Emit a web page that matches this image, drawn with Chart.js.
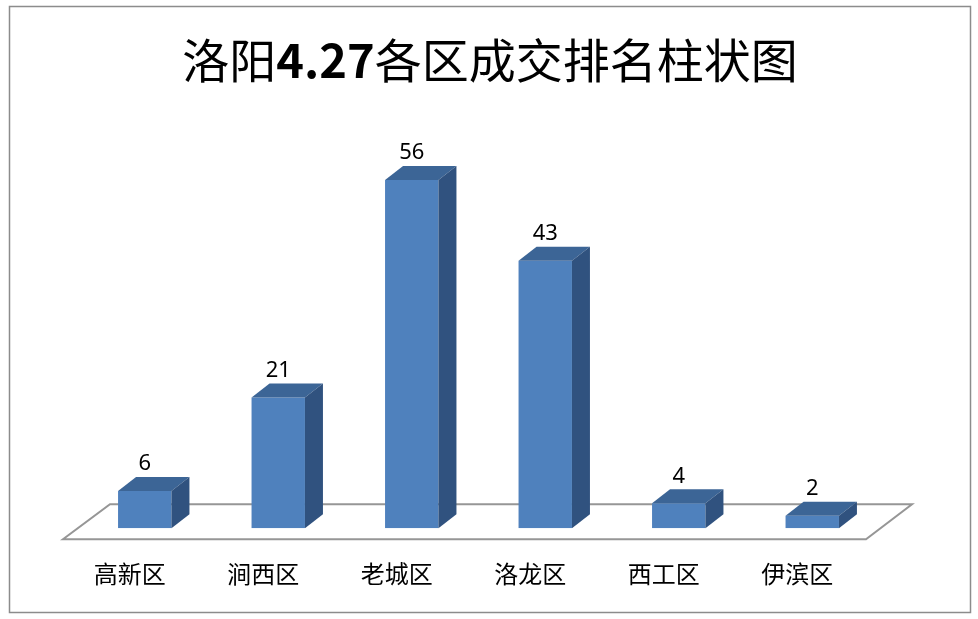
<!DOCTYPE html>
<html>
<head>
<meta charset="utf-8">
<script src="https://cdn.jsdelivr.net/npm/chart.js@4.4.1/dist/chart.umd.min.js"></script>
<style>
html,body{margin:0;padding:0;background:#fff;}
#wrap{position:relative;width:978px;height:619px;}
canvas{display:block;}
</style>
</head>
<body>
<div id="wrap"><canvas id="c" width="978" height="619"></canvas></div>
<script>
const titleParts = [['洛阳', 'normal'], ['4.27', 'bold'], ['各区成交排名柱状图', 'normal']];
const categories = ['高新区', '涧西区', '老城区', '洛龙区', '西工区', '伊滨区'];
const values = [6, 21, 56, 43, 4, 2];
const yMin = 0;
const yMax = 60;

const FRONT = '#4F81BD';
const TOP = '#3C6596';
const SIDE = '#30527F';
const DX = 18, DY = -14;

const frame = {
  id: 'frame',
  beforeDraw(chart) {
    const ctx = chart.ctx;
    ctx.save();
    ctx.fillStyle = '#fff';
    ctx.fillRect(0, 0, chart.width, chart.height);
    ctx.strokeStyle = '#8c8c8c';
    ctx.lineWidth = 1.5;
    ctx.strokeRect(9.5, 6.5, 961, 606);
    // title
    const fam = '"Noto Sans CJK SC", sans-serif';
    const size = 47;
    ctx.fillStyle = '#000';
    ctx.textBaseline = 'middle';
    ctx.textAlign = 'left';
    let total = 0;
    titleParts.forEach(([t, w]) => { ctx.font = w + ' ' + size + 'px ' + fam; total += ctx.measureText(t).width; });
    let x = 490 - total / 2;
    titleParts.forEach(([t, w]) => { ctx.font = w + ' ' + size + 'px ' + fam; ctx.fillText(t, x, 60); x += ctx.measureText(t).width; });
    ctx.restore();
  },
  beforeDatasetsDraw(chart) {
    const ctx = chart.ctx;
    const x = chart.scales.x, y = chart.scales.y;
    const base = y.getPixelForValue(0);
    const fy = base + 11, by = base - 24;
    const fl = x.left - 15, fr = x.right - 13;
    ctx.save();
    ctx.strokeStyle = '#969696';
    ctx.lineWidth = 2;
    ctx.beginPath();
    ctx.moveTo(fl, fy);
    ctx.lineTo(fr, fy);
    ctx.lineTo(fr + 46, by);
    ctx.lineTo(fl + 47, by);
    ctx.closePath();
    ctx.stroke();
    ctx.restore();
  },
  afterDatasetsDraw(chart) {
    const ctx = chart.ctx;
    const meta = chart.getDatasetMeta(0);
    ctx.save();
    meta.data.forEach((bar, i) => {
      const l = bar.x - bar.width / 2, r = bar.x + bar.width / 2;
      const t = bar.y, b = bar.base;
      ctx.fillStyle = TOP;
      ctx.beginPath();
      ctx.moveTo(l, t); ctx.lineTo(r, t); ctx.lineTo(r + DX, t + DY); ctx.lineTo(l + DX, t + DY);
      ctx.closePath(); ctx.fill();
      ctx.fillStyle = SIDE;
      ctx.beginPath();
      ctx.moveTo(r, t); ctx.lineTo(r, b); ctx.lineTo(r + DX, b + DY); ctx.lineTo(r + DX, t + DY);
      ctx.closePath(); ctx.fill();
      ctx.fillStyle = '#000';
      ctx.font = '22px "Noto Sans", sans-serif';
      ctx.textAlign = 'center';
      ctx.textBaseline = 'bottom';
      ctx.fillText(String(values[i]), bar.x, t + DY - 2);
    });
    ctx.restore();
  }
};

new Chart(document.getElementById('c'), {
  type: 'bar',
  data: {
    labels: categories,
    datasets: [{
      data: values,
      backgroundColor: FRONT,
      borderWidth: 0,
      categoryPercentage: 1,
      barPercentage: 0.4
    }]
  },
  options: {
    responsive: false,
    animation: false,
    devicePixelRatio: 1,
    layout: { padding: { left: 78, right: 99, top: 155, bottom: 8 } },
    plugins: {
      legend: { display: false },
      tooltip: { enabled: false },
      title: { display: false }
    },
    scales: {
      x: {
        grid: { display: false },
        border: { display: false },
        ticks: {
          color: '#000',
          padding: 23,
          labelOffset: -15,
          font: { family: '"Noto Sans CJK SC", sans-serif', size: 24, lineHeight: 1.2 }
        }
      },
      y: { display: false, min: yMin, max: yMax }
    }
  },
  plugins: [frame]
});
</script>
</body>
</html>
